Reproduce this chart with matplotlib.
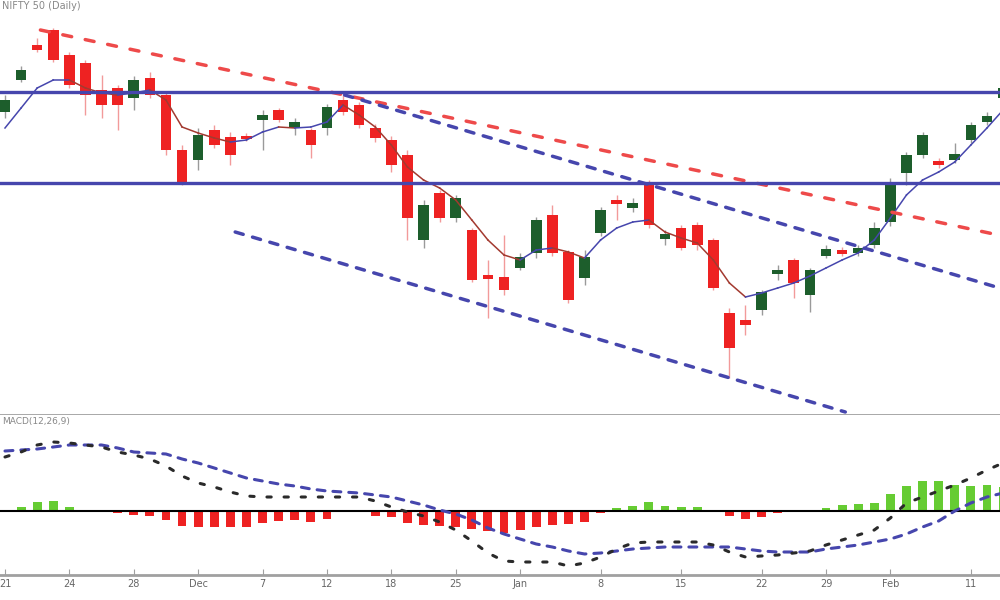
import matplotlib
matplotlib.use("Agg")
import matplotlib.pyplot as plt
import numpy as np

# daily candles, price levels
opens = [303, 335, 370, 385, 360, 352, 325, 327, 317, 337, 320, 265, 255, 285, 278, 279,
         295, 305, 287, 285, 287, 315, 310, 287, 275, 260, 175, 222, 197, 185, 140, 138,
         147, 162, 200, 163, 137, 182, 215, 207, 232, 176, 187, 190, 175, 102, 95, 105,
         141, 155, 120, 159, 165, 162, 170, 193, 242, 260, 254, 255, 275, 293, 317]
closes = [315, 345, 365, 355, 330, 320, 310, 310, 335, 320, 265, 233, 280, 270, 260, 276,
          300, 295, 293, 270, 308, 303, 290, 277, 250, 197, 210, 197, 217, 135, 136, 125,
          158, 195, 162, 115, 158, 205, 211, 212, 190, 181, 167, 170, 127, 67, 90, 123,
          145, 132, 145, 166, 161, 167, 187, 232, 260, 280, 250, 261, 290, 299, 327]
highs = [320, 349, 377, 387, 363, 355, 340, 330, 339, 343, 322, 270, 287, 290, 283, 282,
         305, 307, 297, 287, 311, 320, 313, 291, 279, 265, 215, 225, 220, 187, 155, 180,
         162, 198, 210, 165, 165, 208, 220, 217, 235, 185, 190, 193, 177, 107, 110, 125,
         150, 157, 147, 170, 168, 170, 193, 237, 263, 283, 257, 272, 293, 303, 330]
lows = [297, 333, 363, 353, 327, 300, 297, 285, 305, 317, 260, 230, 245, 267, 250, 274,
        265, 293, 280, 257, 280, 300, 287, 273, 243, 175, 167, 193, 193, 133, 97, 120,
        145, 157, 159, 112, 130, 179, 195, 203, 187, 170, 165, 165, 125, 37, 80, 100,
        135, 117, 103, 157, 159, 159, 167, 189, 230, 257, 247, 252, 272, 290, 315]
avg_line = [287, 307, 327, 335, 335, 327, 322, 320, 322, 325, 315, 288, 282, 277, 273, 275,
            283, 288, 287, 288, 293, 310, 300, 288, 270, 248, 235, 227, 215, 195, 175, 160,
            155, 165, 167, 163, 157, 175, 187, 193, 195, 183, 177, 172, 155, 132, 118, 122,
            127, 132, 139, 147, 155, 162, 175, 197, 220, 235, 243, 253, 270, 287, 305]

# MACD panel
macd = [54, 59, 66, 69, 68, 66, 64, 59, 56, 52, 45, 35, 28, 24, 19, 15, 14, 14, 14, 14, 14,
        14, 14, 10, 4, -1, -5, -11, -19, -30, -42, -50, -51, -51, -51, -55, -52, -46, -38,
        -32, -31, -31, -31, -31, -34, -41, -46, -45, -44, -42, -40, -34, -29, -24, -19, -7,
        8, 14, 20, 26, 33, 41, 48]
signal = [60, 61, 62, 64, 66, 66, 66, 63, 59, 58, 57, 52, 48, 43, 38, 33, 30, 27, 25, 22, 20,
          19, 18, 16, 14, 10, 6, 1, -3, -9, -17, -23, -28, -33, -36, -40, -43, -42, -40, -38,
          -37, -36, -36, -36, -36, -36, -38, -40, -41, -41, -41, -38, -36, -34, -31, -28, -23,
          -16, -10, 0, 8, 14, 18]
hist = [1, 4, 9, 10, 4, 1, 0, -2, -4, -5, -9, -15, -16, -16, -16, -16, -12, -10, -9, -11, -8,
        -1, -1, -5, -6, -12, -14, -15, -16, -18, -20, -22, -19, -16, -14, -13, -11, -2, 3, 5,
        9, 5, 4, 4, 1, -5, -8, -6, -2, -1, -1, 3, 6, 7, 8, 17, 25, 30, 30, 26, 25, 26, 24]

# support / resistance levels and trend lines (candle index, level)
levels = [323, 232]
red_trend = [(2.2, 385), (62, 179)]
upper_channel = [(21.1, 320), (62, 126)]
lower_channel = [(14.3, 183), (52.2, 3)]

tick_pos = [0, 4, 8, 12, 16, 20, 24, 28, 32, 37, 42, 47, 51, 55, 60]
tick_labels = ["21", "24", "28", "Dec", "7", "12", "18", "25", "Jan", "8", "15", "22", "29",
               "Feb", "11"]

RED = "#ee2222"
GREEN = "#1d5e2c"
NAVY = "#4646ad"
GREY = "#a0a0a0"

x = np.arange(len(opens))
fig = plt.figure(figsize=(10, 6), dpi=100)
ax1 = fig.add_axes([0, 185 / 600, 1, 415 / 600])
ax2 = fig.add_axes([0, 25 / 600, 1, 160 / 600])

# candles
for i in x:
    up = closes[i] >= opens[i]
    ax1.vlines(i, lows[i], highs[i], color="#9a9a9a" if up else "#f29a9a", lw=1, zorder=2)
    h = closes[i] - opens[i]
    if abs(h) < 3:
        h = 3 if up else -3
    ax1.bar(i, h, bottom=opens[i], width=0.66, color=GREEN if up else RED, zorder=3)

# moving average, coloured by direction
for i in range(len(avg_line) - 1):
    c = NAVY if avg_line[i + 1] >= avg_line[i] else "#a33a30"
    ax1.plot([i, i + 1], avg_line[i:i + 2], color=c, lw=1.1, zorder=4)

for lv in levels:
    ax1.axhline(lv, color=NAVY, lw=2.4, zorder=5)

for seg, col, d in [(red_trend, "#ee4a4a", (2.6, 4.0)),
                    (upper_channel, NAVY, (2.4, 2.8)),
                    (lower_channel, NAVY, (2.4, 2.8))]:
    ax1.plot([seg[0][0], seg[1][0]], [seg[0][1], seg[1][1]], color=col, lw=2.5,
             dashes=d, dash_capstyle="round", zorder=4)

ax1.set_xlim(-0.31, 61.81)
ax1.set_ylim(0, 415)
ax1.set_xticks([])
ax1.set_yticks([])
for s in ["top", "left", "right"]:
    ax1.spines[s].set_visible(False)
ax1.spines["bottom"].set_color(GREY)
ax1.spines["bottom"].set_linewidth(2)
ax1.text(0.002, 0.998, "NIFTY 50 (Daily)", transform=ax1.transAxes, fontsize=7,
         color="#888888", va="top", ha="left")

# MACD
hc = ["#66cc33" if v >= 0 else RED for v in hist]
ax2.bar(x, hist, width=0.55, color=hc, zorder=2)
ax2.axhline(0, color="black", lw=1.5, zorder=3)
ax2.plot(x, signal, color=NAVY, lw=2.2, dashes=(2.6, 2.6), dash_capstyle="round", zorder=4)
ax2.plot(x, macd, color="#2a2a2a", lw=2.2, dashes=(1.4, 4.2), dash_capstyle="round", zorder=5)
ax2.set_xlim(-0.31, 61.81)
ax2.set_ylim(-64, 96)
ax2.set_yticks([])
ax2.set_xticks(tick_pos)
ax2.set_xticklabels(tick_labels)
ax2.tick_params(axis="x", direction="in", length=4, color=GREY, labelsize=7,
                labelcolor="#666666", pad=3)
for s in ["top", "left", "right"]:
    ax2.spines[s].set_visible(False)
ax2.spines["bottom"].set_color(GREY)
ax2.spines["bottom"].set_linewidth(2)
ax2.text(0.002, 0.985, "MACD(12,26,9)", transform=ax2.transAxes, fontsize=6.5,
         color="#888888", va="top", ha="left")

fig.savefig("out.png", dpi=100)
